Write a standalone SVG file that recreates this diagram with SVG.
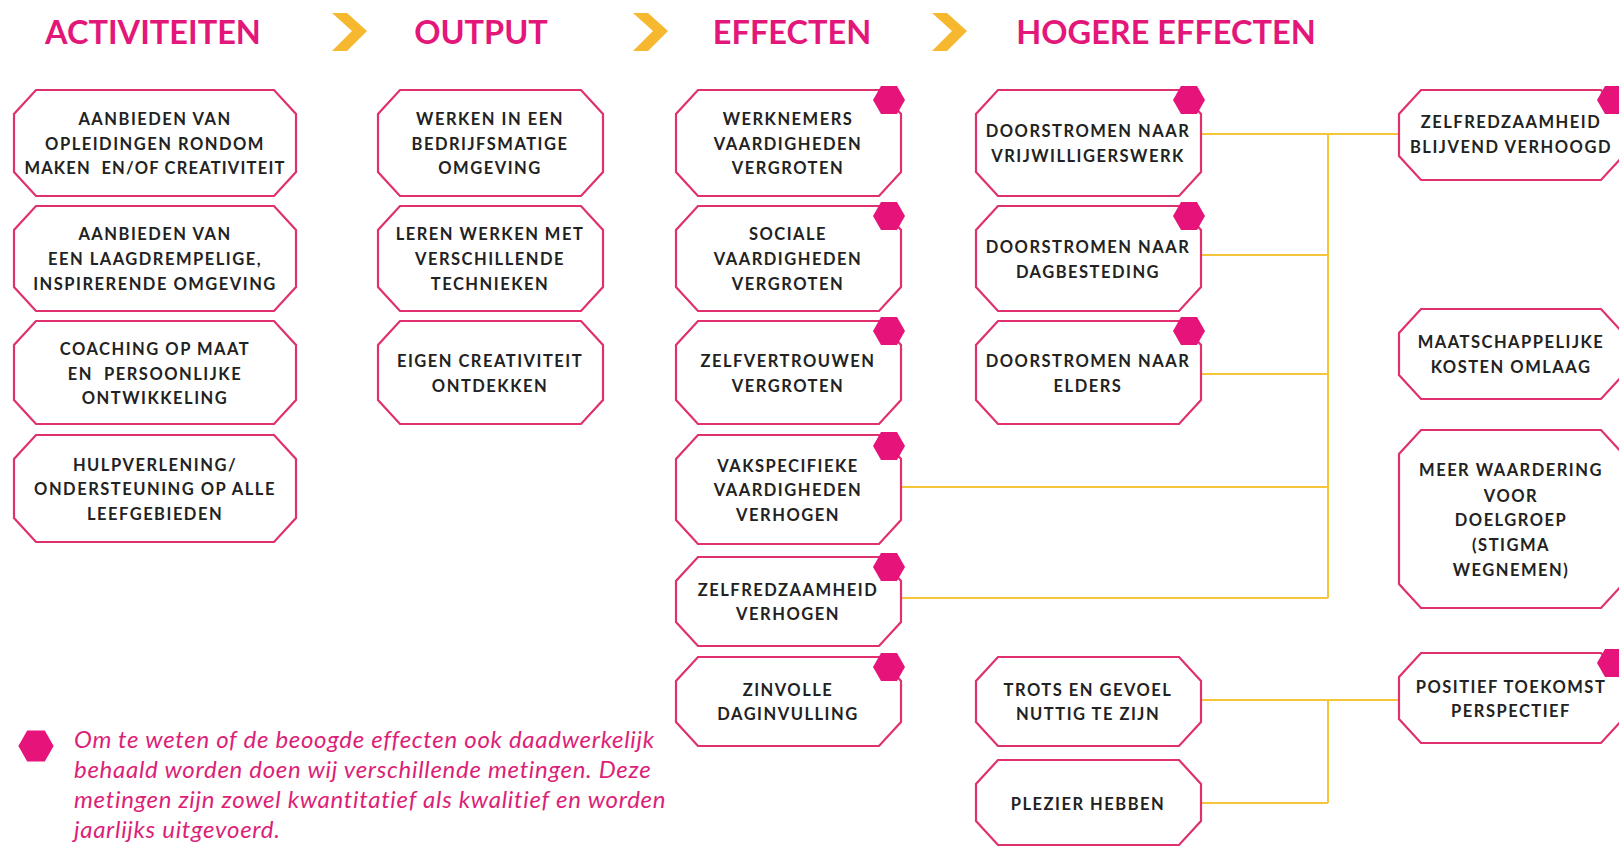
<svg xmlns="http://www.w3.org/2000/svg" width="1619" height="847" viewBox="0 0 1619 847">
<style>
.title{font-family:Lato,"Liberation Sans",sans-serif;font-weight:700;font-size:32.5px;fill:#e3177a;text-anchor:middle}
.box{fill:#fff;stroke:#e0306f;stroke-width:2.2}
.lbl{font-family:Lato,"Liberation Sans",sans-serif;font-weight:700;font-size:16.5px;letter-spacing:1.5px;fill:#222;text-anchor:middle}
.tight{letter-spacing:1.2px}
.hex{fill:#e5137a}
.chev{fill:#f5b82e}
.con{fill:none;stroke:#f5c53a;stroke-width:2}
.legend{font-family:Lato,"Liberation Sans",sans-serif;font-style:italic;font-size:24px;letter-spacing:0.7px;fill:#dc1f78}
</style>
<defs>
<polygon id="hx" points="-16,0 -8,-14 8,-14 16,0 8,14 -8,14"/>
</defs>

<g id="headers">
<text class="title" x="153" y="44">ACTIVITEITEN</text>
<polygon class="chev" points="332,13 347,13 367,31 347,51 332,51 352,31"/>
<text class="title" x="481" y="44">OUTPUT</text>
<polygon class="chev" points="633,13 648,13 668,31 648,51 633,51 653,31"/>
<text class="title" x="792" y="44">EFFECTEN</text>
<polygon class="chev" points="932,13 947,13 967,31 947,51 932,51 952,31"/>
<text class="title" x="1166" y="44">HOGERE EFFECTEN</text>
</g>

<g id="connectors">
<path class="con" d="M1201,134 H1399 M1328,134 V598 M1201,255 H1328 M1201,374 H1328 M901,487 H1328 M901,598 H1328"/>
<path class="con" d="M1201,700 H1399 M1328,700 V803 M1201,803 H1328"/>
</g>

<g id="a1"><path class="box" d="M36,90 H274 L296,114 V172 L274,196 H36 L14,172 V114 Z"/>
<text class="lbl" x="155" y="125">AANBIEDEN VAN</text><text class="lbl" x="155" y="150">OPLEIDINGEN RONDOM</text><text class="lbl tight" x="155" y="174">MAKEN&#160; EN/OF CREATIVITEIT</text></g>
<g id="a2"><path class="box" d="M36,206 H274 L296,230 V287 L274,311 H36 L14,287 V230 Z"/>
<text class="lbl" x="155" y="240">AANBIEDEN VAN</text><text class="lbl" x="155" y="265">EEN LAAGDREMPELIGE,</text><text class="lbl" x="155" y="290">INSPIRERENDE OMGEVING</text></g>
<g id="a3"><path class="box" d="M36,321 H274 L296,345 V400 L274,424 H36 L14,400 V345 Z"/>
<text class="lbl" x="155" y="355">COACHING OP MAAT</text><text class="lbl" x="155" y="380">EN&#160; PERSOONLIJKE</text><text class="lbl" x="155" y="404">ONTWIKKELING</text></g>
<g id="a4"><path class="box" d="M36,435 H274 L296,459 V518 L274,542 H36 L14,518 V459 Z"/>
<text class="lbl" x="155" y="471">HULPVERLENING/</text><text class="lbl" x="155" y="495">ONDERSTEUNING OP ALLE</text><text class="lbl" x="155" y="520">LEEFGEBIEDEN</text></g>

<g id="o1"><path class="box" d="M400,90 H581 L603,114 V172 L581,196 H400 L378,172 V114 Z"/>
<text class="lbl" x="490" y="125">WERKEN IN EEN</text><text class="lbl" x="490" y="150">BEDRIJFSMATIGE</text><text class="lbl" x="490" y="174">OMGEVING</text></g>
<g id="o2"><path class="box" d="M400,206 H581 L603,230 V287 L581,311 H400 L378,287 V230 Z"/>
<text class="lbl" x="490" y="240">LEREN WERKEN MET</text><text class="lbl" x="490" y="265">VERSCHILLENDE</text><text class="lbl" x="490" y="290">TECHNIEKEN</text></g>
<g id="o3"><path class="box" d="M400,321 H581 L603,345 V400 L581,424 H400 L378,400 V345 Z"/>
<text class="lbl" x="490" y="367">EIGEN CREATIVITEIT</text><text class="lbl" x="490" y="392">ONTDEKKEN</text></g>

<g id="e1"><path class="box" d="M698,90 H879 L901,114 V172 L879,196 H698 L676,172 V114 Z"/><use href="#hx" class="hex" x="889" y="100"/>
<text class="lbl" x="788" y="125">WERKNEMERS</text><text class="lbl" x="788" y="150">VAARDIGHEDEN</text><text class="lbl" x="788" y="174">VERGROTEN</text></g>
<g id="e2"><path class="box" d="M698,206 H879 L901,230 V287 L879,311 H698 L676,287 V230 Z"/><use href="#hx" class="hex" x="889" y="216"/>
<text class="lbl" x="788" y="240">SOCIALE</text><text class="lbl" x="788" y="265">VAARDIGHEDEN</text><text class="lbl" x="788" y="290">VERGROTEN</text></g>
<g id="e3"><path class="box" d="M698,321 H879 L901,345 V400 L879,424 H698 L676,400 V345 Z"/><use href="#hx" class="hex" x="889" y="331"/>
<text class="lbl" x="788" y="367">ZELFVERTROUWEN</text><text class="lbl" x="788" y="392">VERGROTEN</text></g>
<g id="e4"><path class="box" d="M698,435 H879 L901,459 V520 L879,544 H698 L676,520 V459 Z"/><use href="#hx" class="hex" x="889" y="446"/>
<text class="lbl" x="788" y="472">VAKSPECIFIEKE</text><text class="lbl" x="788" y="496">VAARDIGHEDEN</text><text class="lbl" x="788" y="521">VERHOGEN</text></g>
<g id="e5"><path class="box" d="M698,557 H879 L901,581 V622 L879,646 H698 L676,622 V581 Z"/><use href="#hx" class="hex" x="889" y="567"/>
<text class="lbl" x="788" y="596">ZELFREDZAAMHEID</text><text class="lbl" x="788" y="620">VERHOGEN</text></g>
<g id="e6"><path class="box" d="M698,657 H879 L901,681 V722 L879,746 H698 L676,722 V681 Z"/><use href="#hx" class="hex" x="889" y="667"/>
<text class="lbl" x="788" y="696">ZINVOLLE</text><text class="lbl" x="788" y="720">DAGINVULLING</text></g>

<g id="h1"><path class="box" d="M998,90 H1179 L1201,114 V172 L1179,196 H998 L976,172 V114 Z"/><use href="#hx" class="hex" x="1189" y="100"/>
<text class="lbl" x="1088" y="137">DOORSTROMEN NAAR</text><text class="lbl" x="1088" y="162">VRIJWILLIGERSWERK</text></g>
<g id="h2"><path class="box" d="M998,206 H1179 L1201,230 V287 L1179,311 H998 L976,287 V230 Z"/><use href="#hx" class="hex" x="1189" y="216"/>
<text class="lbl" x="1088" y="253">DOORSTROMEN NAAR</text><text class="lbl" x="1088" y="278">DAGBESTEDING</text></g>
<g id="h3"><path class="box" d="M998,321 H1179 L1201,345 V400 L1179,424 H998 L976,400 V345 Z"/><use href="#hx" class="hex" x="1189" y="331"/>
<text class="lbl" x="1088" y="367">DOORSTROMEN NAAR</text><text class="lbl" x="1088" y="392">ELDERS</text></g>
<g id="h4"><path class="box" d="M998,657 H1179 L1201,681 V722 L1179,746 H998 L976,722 V681 Z"/>
<text class="lbl" x="1088" y="696">TROTS EN GEVOEL</text><text class="lbl" x="1088" y="720">NUTTIG TE ZIJN</text></g>
<g id="h5"><path class="box" d="M998,760 H1179 L1201,784 V821 L1179,845 H998 L976,821 V784 Z"/>
<text class="lbl" x="1088" y="810">PLEZIER HEBBEN</text></g>

<g id="r1"><path class="box" d="M1421,90 H1601 L1623,114 V156 L1601,180 H1421 L1399,156 V114 Z"/><use href="#hx" class="hex" x="1613" y="100"/>
<text class="lbl" x="1511" y="128">ZELFREDZAAMHEID</text><text class="lbl" x="1511" y="153">BLIJVEND VERHOOGD</text></g>
<g id="r2"><path class="box" d="M1421,309 H1601 L1623,333 V375 L1601,399 H1421 L1399,375 V333 Z"/>
<text class="lbl" x="1511" y="348">MAATSCHAPPELIJKE</text><text class="lbl" x="1511" y="373">KOSTEN OMLAAG</text></g>
<g id="r3"><path class="box" d="M1421,430 H1601 L1623,454 V584 L1601,608 H1421 L1399,584 V454 Z"/>
<text class="lbl" x="1511" y="476">MEER WAARDERING</text><text class="lbl" x="1511" y="502">VOOR</text><text class="lbl" x="1511" y="526">DOELGROEP</text><text class="lbl" x="1511" y="551">(STIGMA</text><text class="lbl" x="1511" y="576">WEGNEMEN)</text></g>
<g id="r4"><path class="box" d="M1421,653 H1601 L1623,677 V719 L1601,743 H1421 L1399,719 V677 Z"/><use href="#hx" class="hex" x="1613" y="663"/>
<text class="lbl" x="1511" y="693">POSITIEF TOEKOMST</text><text class="lbl" x="1511" y="717">PERSPECTIEF</text></g>

<g id="legend">
<use href="#hx" class="hex" x="36" y="746" transform="translate(36 746) scale(1.1) translate(-36 -746)"/>
<text class="legend" x="74" y="748">Om te weten of de beoogde effecten ook daadwerkelijk</text>
<text class="legend" x="74" y="778">behaald worden doen wij verschillende metingen. Deze</text>
<text class="legend" x="74" y="808">metingen zijn zowel kwantitatief als kwalitief en worden</text>
<text class="legend" x="74" y="838">jaarlijks uitgevoerd.</text>
</g>
</svg>
